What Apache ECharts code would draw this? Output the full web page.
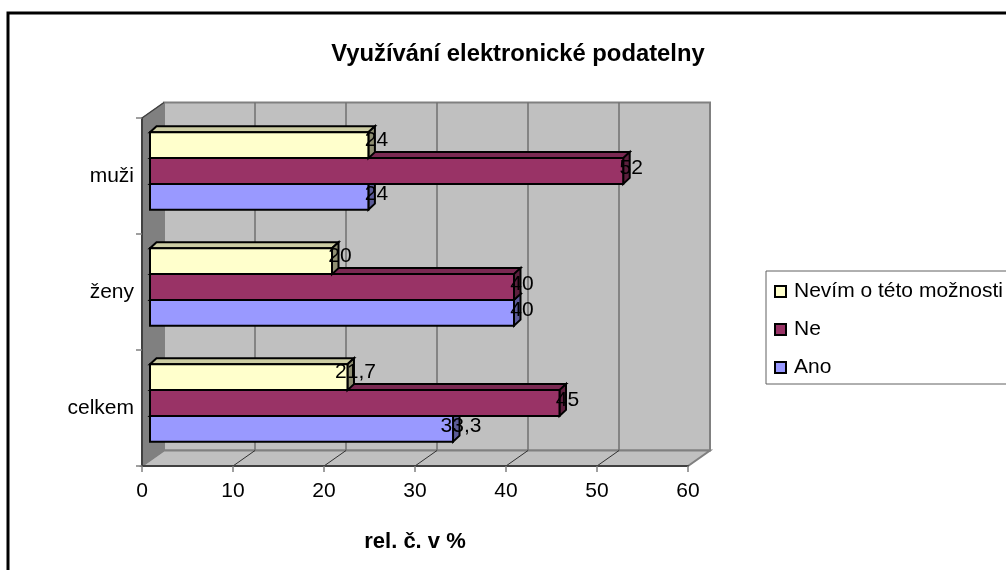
<!DOCTYPE html>
<html>
<head>
<meta charset="utf-8">
<title>Využívání elektronické podatelny</title>
<script src="https://cdn.jsdelivr.net/npm/echarts@6/dist/echarts.min.js"></script>
<style>
  html, body { margin: 0; padding: 0; background: #fff; }
  #chart { width: 1006px; height: 570px; }
</style>
</head>
<body>
<div id="chart"></div>
<script>
const categories = ["celkem", "ženy", "muži"];
const valueTicks = [0, 10, 20, 30, 40, 50, 60];
const ano = [33.3, 40, 24];
const ne = [45, 40, 52];
const nevim = [21.7, 20, 24];

const FONT = "Liberation Sans";
const WALL_DX = 22;
const WALL_DY = 15.5;
const BAR_SHIFT_X = 8;
const BAR_SHIFT_Y = 5;
const BAR_DX = 6.5;
const BAR_DY = 6;
const GAP_RATIO = 4.5;

const poly = (points, fill, stroke, lineWidth) => ({
  type: "polygon",
  shape: { points },
  style: { fill, stroke, lineWidth, lineJoin: "miter" }
});
const seg = (a, b, stroke, lineWidth) => ({
  type: "line",
  shape: { x1: a[0], y1: a[1], x2: b[0], y2: b[1] },
  style: { stroke, lineWidth }
});

// back wall, side wall and floor of the 3D box
const renderWalls = (params, api) => {
  const box = params.coordSys;
  const left = box.x, right = box.x + box.width, top = box.y, bottom = box.y + box.height;
  const children = [
    poly([[left + WALL_DX, top - WALL_DY], [right + WALL_DX, top - WALL_DY],
      [right + WALL_DX, bottom - WALL_DY], [left + WALL_DX, bottom - WALL_DY]], "#c0c0c0", "#808080", 2),
    poly([[left, bottom], [right, bottom], [right + WALL_DX, bottom - WALL_DY],
      [left + WALL_DX, bottom - WALL_DY]], "#c0c0c0", "#808080", 2),
    poly([[left, top], [left + WALL_DX, top - WALL_DY], [left + WALL_DX, bottom - WALL_DY],
      [left, bottom]], "#808080", "#808080", 1),
    seg([left, top], [left + WALL_DX, top - WALL_DY], "#404040", 1.5)
  ];
  valueTicks.slice(1, -1).forEach((tick) => {
    const x = api.coord([tick, 0])[0];
    children.push(seg([x + WALL_DX, top - WALL_DY], [x + WALL_DX, bottom - WALL_DY], "#707070", 1.5));
    children.push(seg([x, bottom], [x + WALL_DX, bottom - WALL_DY], "#303030", 1));
  });
  return { type: "group", children };
};

// row: 0 = Ano (lowest in the band), 1 = Ne, 2 = Nevím (highest)
const renderBar = (row, front, topFace, sideFace) => (params, api) => {
  const cat = api.value(0);
  const start = api.coord([0, cat]);
  const end = api.coord([api.value(1), cat]);
  const h = api.size([0, 1])[1] / GAP_RATIO;
  const x0 = start[0] + BAR_SHIFT_X;
  const x1 = end[0] + BAR_SHIFT_X;
  const yTop = start[1] - BAR_SHIFT_Y + (0.5 - row) * h;
  const yBottom = yTop + h;
  return {
    type: "group",
    children: [
      poly([[x0, yTop], [x0 + BAR_DX, yTop - BAR_DY], [x1 + BAR_DX, yTop - BAR_DY], [x1, yTop]], topFace, "#000", 2),
      poly([[x1, yTop], [x1 + BAR_DX, yTop - BAR_DY], [x1 + BAR_DX, yBottom - BAR_DY], [x1, yBottom]], sideFace, "#000", 2),
      poly([[x0, yTop], [x1, yTop], [x1, yBottom], [x0, yBottom]], front, "#000", 2)
    ]
  };
};

const renderLabel = (params, api) => {
  const row = api.value(2);
  const pos = api.coord([api.value(1), api.value(0)]);
  const h = api.size([0, 1])[1] / GAP_RATIO;
  return {
    type: "text",
    style: {
      x: pos[0] + 16,
      y: pos[1] - BAR_SHIFT_Y + (1 - row) * h - (row === 2 ? 5 : 3),
      text: String(api.value(1)).replace(".", ","),
      font: "21px '" + FONT + "'",
      fill: "#000",
      align: "center",
      verticalAlign: "middle"
    }
  };
};

const toRows = (values) => values.map((v, i) => [i, v]);
const labelRows = [ano, ne, nevim].flatMap((values, row) => values.map((v, i) => [i, v, row]));

// the upper bar of a band is painted over the top face of the one below it
const barSeries = (name, values, row, front, topFace, sideFace) => ({
  name,
  type: "custom",
  z: 3 + row,
  silent: true,
  itemStyle: { color: front },
  encode: { x: 1, y: 0 },
  renderItem: renderBar(row, front, topFace, sideFace),
  data: toRows(values)
});

const chart = echarts.init(document.getElementById("chart"));
chart.setOption({
  animation: false,
  backgroundColor: "#fff",
  textStyle: { fontFamily: FONT },
  title: {
    text: "Využívání elektronické podatelny",
    left: 513,
    top: 37,
    textAlign: "center",
    textStyle: { fontFamily: FONT, fontSize: 23.8, fontWeight: "bold", color: "#000" }
  },
  graphic: [{
    type: "rect",
    z: -10,
    shape: { x: 8, y: 13, width: 1100, height: 700 },
    style: { fill: "#fff", stroke: "#000", lineWidth: 3 }
  }],
  legend: {
    orient: "vertical",
    left: 766,
    top: 271,
    padding: [10, 40, 6, 8],
    itemWidth: 11,
    itemHeight: 11,
    itemGap: 17,
    icon: "rect",
    backgroundColor: "#fff",
    borderColor: "#606060",
    borderWidth: 1,
    itemStyle: { borderColor: "#000", borderWidth: 2 },
    textStyle: { fontFamily: FONT, fontSize: 21, color: "#000", padding: [0, 0, 0, 3] },
    selectedMode: false,
    data: ["Nevím o této možnosti", "Ne", "Ano"]
  },
  grid: { left: 142, right: 318, top: 118, bottom: 104 },
  xAxis: {
    type: "value",
    min: 0,
    max: 60,
    interval: 10,
    z: 1,
    name: "rel. č. v %",
    nameLocation: "middle",
    nameGap: 65,
    nameTextStyle: { fontFamily: FONT, fontSize: 22, fontWeight: "bold", color: "#000" },
    axisLine: { show: true, lineStyle: { color: "#404040", width: 2 } },
    axisTick: { show: true, length: 6, lineStyle: { color: "#808080", width: 1.5 } },
    axisLabel: { fontFamily: FONT, fontSize: 21, color: "#000", margin: 15 },
    splitLine: { show: false }
  },
  yAxis: {
    type: "category",
    data: categories,
    z: 1,
    axisLine: { show: true, lineStyle: { color: "#404040", width: 2 } },
    axisTick: { show: true, length: 6, lineStyle: { color: "#808080", width: 1.5 } },
    axisLabel: { fontFamily: FONT, fontSize: 21, color: "#000", margin: 8 },
    splitLine: { show: false }
  },
  series: [
    { type: "custom", z: 0, silent: true, renderItem: renderWalls, data: [[0, 0]] },
    barSeries("Nevím o této možnosti", nevim, 2, "#ffffcc", "#cccca3", "#8f8f72"),
    barSeries("Ne", ne, 1, "#993366", "#7a2952", "#5c1f3d"),
    barSeries("Ano", ano, 0, "#9999ff", "#7a7acc", "#5c5c99"),
    {
      type: "custom",
      z: 10,
      silent: true,
      encode: { x: 1, y: 0 },
      renderItem: renderLabel,
      data: labelRows
    }
  ]
});
</script>
</body>
</html>
